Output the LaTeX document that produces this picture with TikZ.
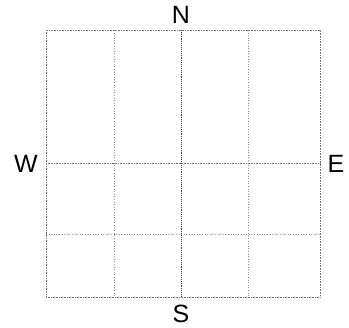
\documentclass[tikz,border=0pt]{standalone}
\usepackage{fontspec}
\setmainfont{Liberation Sans}
\usetikzlibrary{positioning}

\begin{document}
\begin{tikzpicture}[
  x=1pt, y=-1pt,
  gridline/.style={densely dotted, line width=0.6pt, black!55},
  innerline/.style={dotted, line width=0.6pt, black!45},
  midline/.style={densely dotted, line width=0.9pt, black!75},
  dirlabel/.style={font=\fontsize{25}{30}\selectfont, inner sep=0pt}
]
  \useasboundingbox (0,0) rectangle (349,328);

  % Frame and grid
  \draw[gridline] (46,30) rectangle (320,297);
  \draw[innerline] (114,30) -- (114,297);
  \draw[innerline] (248,30) -- (248,297);
  \draw[innerline] (46,234) -- (320,234);
  \draw[midline] (181,30) -- (181,297);
  \draw[gridline] (46,163) -- (320,163);

  % Directions
  \node[dirlabel] (north) at (181,15) {N};
  \node[dirlabel] (south) at (181,314) {S};
  \node[dirlabel] (west) at (26,164) {W};
  \node[dirlabel] (east) at (336,164) {E};
\end{tikzpicture}
\end{document}
